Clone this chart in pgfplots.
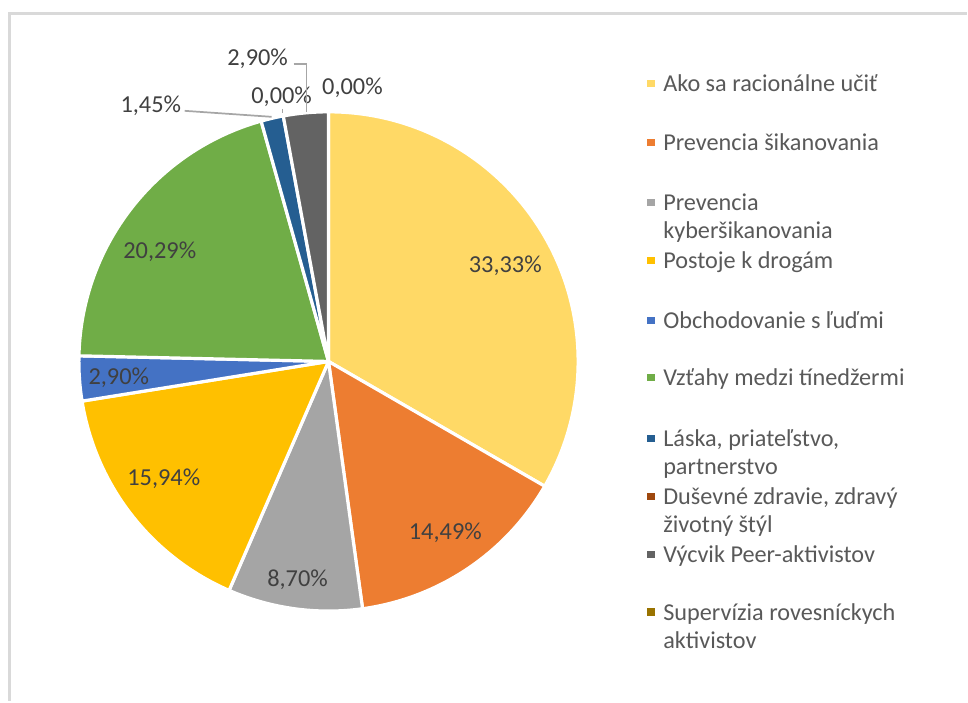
\documentclass[border=0pt]{standalone}
\usepackage{pgfplots}
\usepackage{pgfplotstable}
\pgfplotsset{compat=1.18}
\usepackage{fontspec}
\setmainfont{Carlito}
\definecolor{slice0}{HTML}{FFD966}
\definecolor{slice1}{HTML}{ED7D31}
\definecolor{slice2}{HTML}{A5A5A5}
\definecolor{slice3}{HTML}{FFC000}
\definecolor{slice4}{HTML}{4472C4}
\definecolor{slice5}{HTML}{70AD47}
\definecolor{slice6}{HTML}{255E91}
\definecolor{slice7}{HTML}{9E480E}
\definecolor{slice8}{HTML}{636363}
\definecolor{slice9}{HTML}{997300}
\definecolor{lbl}{HTML}{404040}
\definecolor{legtxt}{HTML}{595959}
\definecolor{frame}{HTML}{D9D9D9}
\definecolor{leader}{HTML}{A6A6A6}

% share of answers (%), clockwise from 12 o'clock
\pgfplotstableread{
value
33.33
14.49
8.70
15.94
2.90
20.29
1.45
0.00
2.90
0.00
}\piedata

\begin{document}
\begin{tikzpicture}
\begin{axis}[
  width=726pt, height=526.5pt, scale only axis,
  xmin=0, xmax=968, ymin=0, ymax=702,
  hide axis, clip=false,
]
\path (axis cs:0,0) rectangle (axis cs:968,702);
% frame
\draw[frame, line width=2.2pt] (axis cs:9.5,0) -- (axis cs:9.5,688.5) -- (axis cs:968,688.5);
% pie
\xdef\ang{90}
\pgfplotsinvokeforeach{0,...,9}{%
  \pgfplotstablegetelem{#1}{value}\of\piedata
  \pgfmathsetmacro\spanang{\pgfplotsretval*3.6}%
  \pgfmathsetmacro\endang{\ang-\spanang}%
  \ifdim\pgfplotsretval pt>0pt
    \edef\cmd{\noexpand\filldraw[fill=slice#1, draw=white, line width=2.4pt, line join=round]
      (axis cs:329,340) -- ++(\ang:187.5pt) arc[start angle=\ang, end angle=\endang, radius=187.5pt] -- cycle;}%
    \cmd
  \fi
  \xdef\ang{\endang}%
}
% data labels
\tikzset{dl/.style={anchor=base, inner sep=0pt, text=lbl, font=\fontsize{18.3}{21}\selectfont}}
\node[dl] at (axis cs:506,429) {33,33\%};
\node[dl] at (axis cs:446,162) {14,49\%};
\node[dl] at (axis cs:298,115) {8,70\%};
\node[dl] at (axis cs:164,216) {15,94\%};
\node[dl] at (axis cs:119,317) {2,90\%};
\node[dl] at (axis cs:160,443) {20,29\%};
\node[dl] at (axis cs:151,589) {1,45\%};
\node[dl] at (axis cs:282,598) {0,00\%};
\node[dl] at (axis cs:258,636) {2,90\%};
\node[dl] at (axis cs:353,607) {0,00\%};
% leader lines
\draw[leader, line width=1.3pt] (axis cs:185,591) -- (axis cs:272,585);
\draw[leader, line width=1.3pt] (axis cs:283,593) -- (axis cs:283,589);
\draw[leader, line width=1.3pt] (axis cs:294,638) -- (axis cs:307,638) -- (axis cs:307,590);
% legend
\tikzset{lt/.style={anchor=base west, inner sep=0pt, text=legtxt, font=\fontsize{18.2}{21}\selectfont}}
\newcommand{\legmark}[2]{\fill[#1] (axis cs:648,{#2-3.6}) rectangle (axis cs:655.5,{#2+3.6});}
\legmark{slice0}{618}
\node[lt] at (axis cs:664,610) {Ako sa racionálne učiť};
\legmark{slice1}{559}
\node[lt] at (axis cs:664,551) {Prevencia šikanovania};
\legmark{slice2}{499}
\node[lt] at (axis cs:664,491) {Prevencia};
\node[lt] at (axis cs:664,463) {kyberšikanovania};
\legmark{slice3}{441}
\node[lt] at (axis cs:664,433) {Postoje k drogám};
\legmark{slice4}{381}
\node[lt] at (axis cs:664,373) {Obchodovanie s ľuďmi};
\legmark{slice5}{324}
\node[lt] at (axis cs:664,316) {Vzťahy medzi tínedžermi};
\legmark{slice6}{263}
\node[lt] at (axis cs:664,255) {Láska, priateľstvo,};
\node[lt] at (axis cs:664,227) {partnerstvo};
\legmark{slice7}{205}
\node[lt] at (axis cs:664,197) {Duševné zdravie, zdravý};
\node[lt] at (axis cs:664,169) {životný štýl};
\legmark{slice8}{147}
\node[lt] at (axis cs:664,139) {Výcvik Peer-aktivistov};
\legmark{slice9}{89}
\node[lt] at (axis cs:664,81) {Supervízia rovesníckych};
\node[lt] at (axis cs:664,53) {aktivistov};
\end{axis}
\end{tikzpicture}
\end{document}
